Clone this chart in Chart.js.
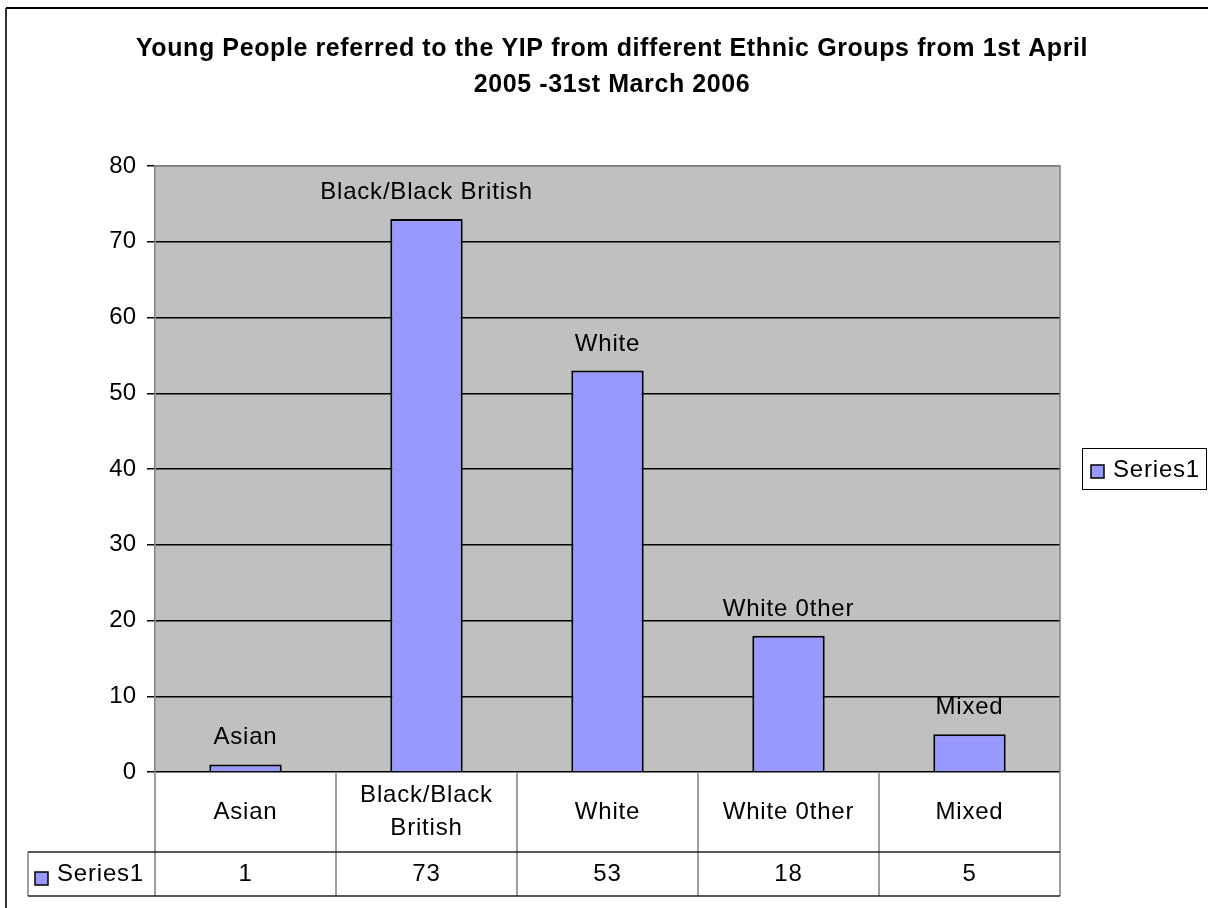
<!DOCTYPE html>
<html>
<head>
<meta charset="utf-8">
<title>Young People referred to the YIP</title>
<script src="https://cdn.jsdelivr.net/npm/chart.js@4"></script>
<style>
  html, body { margin: 0; padding: 0; background: #fff; }
  #wrap { width: 1208px; height: 908px; }
</style>
</head>
<body>
<div id="wrap"><canvas id="chart" width="1208" height="908"></canvas></div>
<script>
// Chart data
const titleLines = [
  'Young People referred to the YIP from different Ethnic Groups from 1st April',
  '2005 -31st March 2006'
];
const categories = ['Asian', 'Black/Black British', 'White', 'White 0ther', 'Mixed'];
const seriesName = 'Series1';
const seriesValues = [1, 73, 53, 18, 5];
const yTicks = [0, 10, 20, 30, 40, 50, 60, 70, 80];

const FONT = "'Liberation Sans', Arial, sans-serif";
const barFill = '#9999FF';
const plotGrey = '#C0C0C0';
const lineGrey = '#808080';

// small legend key square
function drawKey(ctx, x, y, size) {
  ctx.save();
  ctx.fillStyle = barFill;
  ctx.fillRect(x, y, size, size);
  ctx.strokeStyle = '#000';
  ctx.lineWidth = 1.5;
  ctx.strokeRect(x, y, size, size);
  ctx.restore();
}

function wrapText(ctx, text, maxWidth) {
  const words = text.split(' ');
  const lines = [];
  let line = '';
  words.forEach(w => {
    const test = line ? line + ' ' + w : w;
    if (line && ctx.measureText(test).width > maxWidth) {
      lines.push(line);
      line = w;
    } else {
      line = test;
    }
  });
  if (line) lines.push(line);
  return lines;
}

const sheetPlugin = {
  id: 'sheet',
  beforeDraw(chart) {
    const { ctx, chartArea: a } = chart;
    ctx.save();
    ctx.fillStyle = '#fff';
    ctx.fillRect(0, 0, chart.width, chart.height);
    ctx.fillStyle = plotGrey;
    ctx.fillRect(a.left, a.top, a.right - a.left, a.bottom - a.top);
    ctx.restore();
  },
  afterDatasetsDraw(chart) {
    const { ctx, chartArea: a } = chart;
    const meta = chart.getDatasetMeta(0);
    ctx.save();
    // plot border (top + right)
    ctx.strokeStyle = lineGrey;
    ctx.lineWidth = 1.5;
    ctx.beginPath();
    ctx.moveTo(a.left, a.top);
    ctx.lineTo(a.right, a.top);
    ctx.lineTo(a.right, a.bottom);
    ctx.stroke();

    // category names above each bar
    ctx.fillStyle = '#000';
    ctx.font = '24px ' + FONT;
    ctx.letterSpacing = '0.8px';
    ctx.textAlign = 'center';
    ctx.textBaseline = 'alphabetic';
    meta.data.forEach((bar, i) => {
      ctx.fillText(categories[i], bar.x, bar.y - 20);
    });
    ctx.restore();
  },
  afterDraw(chart) {
    const { ctx, chartArea: a } = chart;
    const xs = chart.scales.x;
    const colW = (a.right - a.left) / categories.length;
    const rowTop = a.bottom;
    const rowMid = 852;
    const rowBot = 896;
    const tableLeft = 28;

    ctx.save();
    // outer frame
    ctx.strokeStyle = '#000';
    ctx.lineWidth = 2;
    ctx.beginPath();
    ctx.moveTo(1208, 8);
    ctx.lineTo(6, 8);
    ctx.stroke();
    ctx.strokeStyle = '#333';
    ctx.beginPath();
    ctx.moveTo(6, 8);
    ctx.lineTo(6, 908);
    ctx.stroke();

    // title
    ctx.fillStyle = '#000';
    ctx.font = 'bold 25px ' + FONT;
    ctx.letterSpacing = '0.6px';
    ctx.textAlign = 'center';
    ctx.textBaseline = 'alphabetic';
    ctx.fillText(titleLines[0], 612, 56);
    ctx.fillText(titleLines[1], 612, 92);

    // data table grid
    ctx.strokeStyle = lineGrey;
    ctx.lineWidth = 1.5;
    ctx.beginPath();
    for (let i = 0; i <= categories.length; i++) {
      const x = a.left + i * colW;
      ctx.moveTo(x, rowTop);
      ctx.lineTo(x, rowBot);
    }
    ctx.moveTo(tableLeft, rowMid);
    ctx.lineTo(tableLeft, rowBot);
    ctx.stroke();

    ctx.strokeStyle = '#222';
    ctx.beginPath();
    ctx.moveTo(tableLeft, rowMid);
    ctx.lineTo(a.right, rowMid);
    ctx.moveTo(tableLeft, rowBot);
    ctx.lineTo(a.right, rowBot);
    ctx.stroke();

    // table text
    ctx.fillStyle = '#000';
    ctx.font = '24px ' + FONT;
    ctx.letterSpacing = '0.8px';
    ctx.textAlign = 'center';
    ctx.textBaseline = 'middle';
    categories.forEach((c, i) => {
      const cx = xs.getPixelForValue(i);
      const lines = wrapText(ctx, c, colW - 16);
      const lh = 33;
      const y0 = (rowTop + rowMid) / 2 - (lines.length - 1) * lh / 2;
      lines.forEach((ln, j) => ctx.fillText(ln, cx, y0 + j * lh));
      ctx.fillText(String(seriesValues[i]), cx, (rowMid + rowBot) / 2);
    });

    // series key in the table
    drawKey(ctx, 35, 872, 13);
    ctx.textAlign = 'left';
    ctx.fillText(seriesName, 57, (rowMid + rowBot) / 2);

    // legend box on the right
    ctx.strokeStyle = '#000';
    ctx.lineWidth = 1;
    ctx.strokeRect(1082.5, 448.5, 124, 41);
    drawKey(ctx, 1091, 465, 13);
    ctx.fillText(seriesName, 1113, 470);
    ctx.restore();
  }
};

new Chart(document.getElementById('chart'), {
  type: 'bar',
  data: {
    labels: categories,
    datasets: [{
      label: seriesName,
      data: seriesValues,
      backgroundColor: barFill,
      borderColor: '#000',
      borderWidth: 2,
      barPercentage: 0.4,
      categoryPercentage: 1.0
    }]
  },
  options: {
    responsive: false,
    animation: false,
    layout: { padding: { left: 0, top: 166, right: 148, bottom: 0 } },
    plugins: {
      legend: { display: false },
      title: { display: false },
      tooltip: { enabled: false }
    },
    scales: {
      x: {
        ticks: { display: false },
        grid: { display: false, drawTicks: false },
        border: { display: false },
        afterFit(scale) { scale.height = 136; }
      },
      y: {
        min: 0,
        max: 80,
        afterBuildTicks(scale) { scale.ticks = yTicks.map(v => ({ value: v })); },
        ticks: {
          color: '#000',
          font: { family: FONT, size: 24 },
          padding: 11
        },
        grid: {
          color: ctx => (ctx.tick && ctx.tick.value === 80) ? lineGrey : '#000',
          lineWidth: 1.5,
          tickLength: 8,
          tickColor: '#000'
        },
        border: { color: lineGrey, width: 1.5 },
        afterFit(scale) { scale.width = 155; }
      }
    }
  },
  plugins: [sheetPlugin]
});
</script>
</body>
</html>
